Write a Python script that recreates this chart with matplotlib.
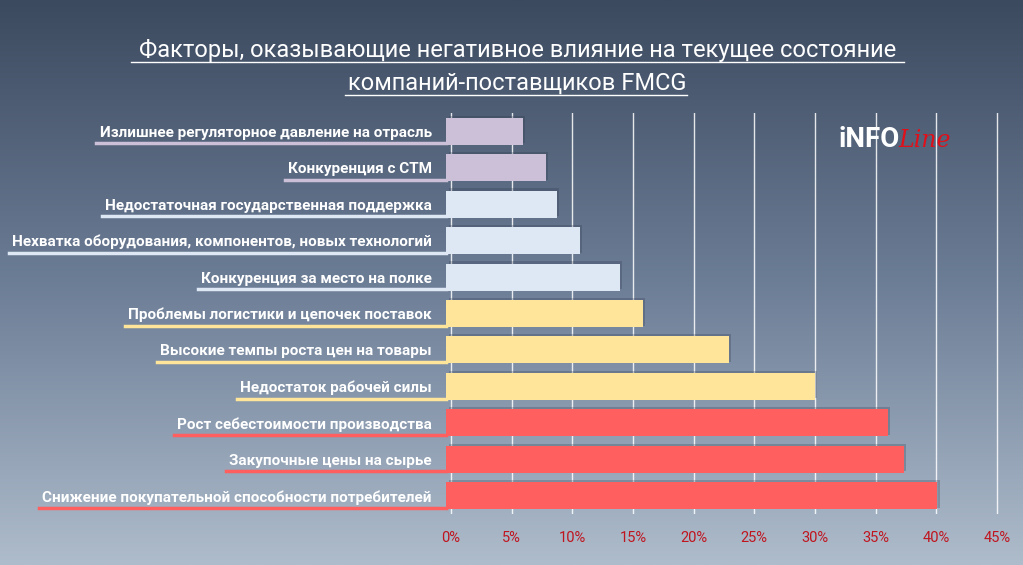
import numpy as np
import matplotlib.pyplot as plt
from matplotlib import font_manager
from matplotlib.colors import LinearSegmentedColormap

factors = [
    "Снижение покупательной способности потребителей",
    "Закупочные цены на сырье",
    "Рост себестоимости производства",
    "Недостаток рабочей силы",
    "Высокие темпы роста цен на товары",
    "Проблемы логистики и цепочек поставок",
    "Конкуренция за место на полке",
    "Нехватка оборудования, компонентов, новых технологий",
    "Недостаточная государственная поддержка",
    "Конкуренция с СТМ",
    "Излишнее регуляторное давление на отрасль",
]
values = [40.1, 37.3, 36.0, 30.0, 22.9, 15.8, 13.9, 10.6, 8.7, 7.8, 5.9]
colors = ["#ff5f5f"] * 3 + ["#ffe59a"] * 3 + ["#dde8f4"] * 3 + ["#ccc0d8"] * 2
ticks = list(range(0, 50, 5))

names = {f.name for f in font_manager.fontManager.ttflist}
lab_font = "Liberation Sans Narrow" if "Liberation Sans Narrow" in names else "Roboto"

fig = plt.figure(figsize=(10.23, 5.65), dpi=100)
bg = fig.add_axes([0, 0, 1, 1])
grad = np.linspace(0, 1, 256).reshape(-1, 1)
cmap = LinearSegmentedColormap.from_list("bg", ["#3c4a5f", "#6c7d96", "#aebccb"])
bg.imshow(grad, aspect="auto", cmap=cmap, extent=[0, 1, 0, 1], origin="upper")
bg.set_axis_off()

# title with underline
fig.text(0.506, 1 - 57 / 565, "Факторы, оказывающие негативное влияние на текущее состояние",
         ha="center", va="baseline", color="white", fontsize=17, family="Roboto")
fig.text(0.506, 1 - 90 / 565, "компаний-поставщиков FMCG",
         ha="center", va="baseline", color="white", fontsize=17, family="Roboto")
fig.add_artist(plt.Line2D([0.128, 0.884], [1 - 62 / 565] * 2, color="white", lw=1))
fig.add_artist(plt.Line2D([0.337, 0.672], [1 - 95 / 565] * 2, color="white", lw=1))

ax = fig.add_axes([0.4355, 0.0903, 0.5414, 0.7097])
ax.set_facecolor("none")
y = np.arange(len(factors))
w = np.array(values) + 0.4
ax.barh(y + 0.05, w, left=-0.2, height=0.76, color="#2a3448", alpha=0.25, zorder=2)
ax.barh(y, w, left=-0.4, height=0.74, color=colors, zorder=3)
ax.set_xlim(-0.45, 45.2)
ax.set_ylim(-0.5, len(factors) - 0.5)
ax.set_xticks(ticks)
ax.set_xticklabels([f"{t}%" for t in ticks], color="#c0141e", fontsize=10.5, family=lab_font)
ax.tick_params(axis="x", length=0, pad=12)
ax.set_yticks(y)
ax.set_yticklabels(factors, color="white", fontsize=11, fontweight="bold", family=lab_font)
ax.tick_params(axis="y", length=0, pad=10)
ax.grid(axis="x", color="white", lw=1, alpha=0.85, zorder=1)
for s in ax.spines.values():
    s.set_visible(False)

fig.canvas.draw()
r = fig.canvas.get_renderer()
for lab, c in zip(ax.get_yticklabels(), colors):
    bb = lab.get_window_extent(r).transformed(fig.transFigure.inverted())
    fig.add_artist(plt.Line2D([bb.x0 - 0.003, 0.436], [bb.y0 - 0.006] * 2, color=c, lw=2.5))

fig.text(0.82, 0.74, "iNFO", color="white", fontsize=20, fontweight="bold", family="Roboto")
fig.text(0.878, 0.74, "Line", color="#e0101a", fontsize=17, style="italic", family="DejaVu Serif")

fig.savefig("out.png", dpi=100)
